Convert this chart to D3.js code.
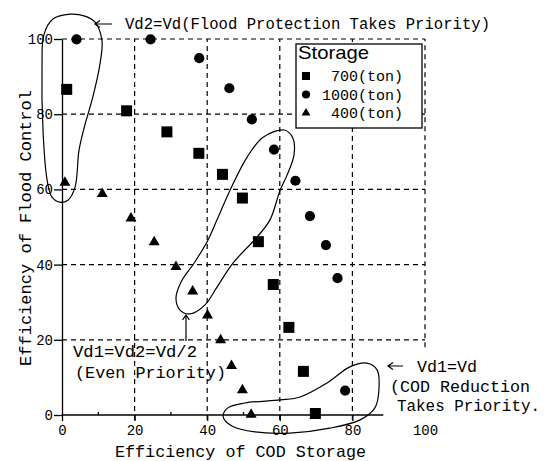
<!DOCTYPE html>
<html>
<head>
<meta charset="utf-8">
<script src="https://cdn.jsdelivr.net/npm/d3@7"></script>
<style>
  body { margin: 0; background: #fff; }
  svg { display: block; }
</style>
</head>
<body>
<svg id="chart" width="548" height="461"></svg>
<script>
// tick values on both axes
const xTicks = [0, 20, 40, 60, 80, 100]
const yTicks = [0, 20, 40, 60, 80, 100]
const xMinor = [10, 30, 50, 70]
const gridX = [20, 40, 60, 80, 100]
const gridY = [20, 40, 60, 80, 100]
const xAxisEnd = 88.5

// [efficiency of COD storage, efficiency of flood control]
const storage700 = [[1.3, 86.6], [17.8, 80.9], [28.9, 75.3], [37.7, 69.6], [44.2, 64.0], [49.7, 57.7],
  [54.1, 46.1], [58.2, 34.7], [62.5, 23.3], [66.5, 11.6], [69.8, 0.4]]
const storage1000 = [[4.0, 99.9], [24.4, 99.9], [37.8, 94.9], [46.1, 86.9], [52.3, 78.6], [58.4, 70.6],
  [64.3, 62.3], [68.3, 52.9], [72.7, 45.2], [75.9, 36.4], [78.0, 6.5]]
const storage400 = [[0.8, 61.8], [11.1, 58.8], [19.0, 52.3], [25.4, 46.0], [31.4, 39.4], [36.0, 32.9],
  [40.1, 26.5], [43.7, 19.9], [46.7, 13.1], [49.7, 6.6], [52.1, 0.1]]

const legendLabels = ['700(ton)', '1000(ton)', '400(ton)']

// hand drawn loops around the three priority cases (data units)
const loopFlood = [[2.2, 106.6], [6.3, 106.1], [9.1, 104.5], [11.0, 99.7], [10.5, 93.6], [8.5, 84.6],
  [6.3, 77.1], [4.7, 70.5], [3.6, 60.6], [1.7, 57.2], [-0.6, 56.6], [-2.8, 58.0], [-4.1, 62.5],
  [-5.2, 75.0], [-5.5, 92.6], [-5.0, 101.1], [-2.5, 105.3]]
const loopEven = [[61.2, 75.8], [63.6, 73.7], [63.9, 69.1], [62.0, 63.8], [60.1, 59.8], [57.3, 51.9],
  [53.7, 47.3], [47.1, 40.4], [42.7, 34.0], [39.4, 29.3], [35.3, 26.9], [32.5, 27.9], [31.4, 31.1],
  [32.8, 35.4], [36.6, 40.7], [40.2, 46.5], [42.7, 51.9], [46.3, 59.8], [51.0, 68.6], [55.4, 73.9]]
const loopCod = [[44.4, -0.5], [45.7, 1.9], [50.4, 3.2], [60.1, 4.0], [65.6, 4.8], [73.0, 8.5],
  [79.3, 12.8], [84.0, 13.8], [86.8, 12.0], [87.3, 6.6], [86.2, 1.9], [82.1, -1.3], [73.8, -3.5],
  [62.8, -4.8], [53.2, -4.5], [46.8, -2.9]]

const mono = '"Liberation Mono", "DejaVu Sans Mono", monospace'
const narrow = '"Liberation Sans Narrow", "Liberation Sans", Arial, sans-serif'

const svg = d3.select('#chart')
const x = d3.scaleLinear().domain([0, 100]).range([62, 425])
const y = d3.scaleLinear().domain([0, 100]).range([415, 39])

// dashed grid
const grid = svg.append('g')
  .attr('stroke', '#000')
  .attr('stroke-width', 1.2)
  .attr('stroke-dasharray', '5,4')
  .attr('fill', 'none')
grid.selectAll('.gv')
  .data(gridX)
  .join('line')
  .attr('class', 'gv')
  .attr('x1', d => x(d)).attr('x2', d => x(d))
  .attr('y1', d => d === 100 ? y(18) : y(0) + 5)
  .attr('y2', y(100))
grid.selectAll('.gh')
  .data(gridY)
  .join('line')
  .attr('class', 'gh')
  .attr('x1', x(0)).attr('x2', x(100))
  .attr('y1', d => y(d)).attr('y2', d => y(d))

// axes
const yAxis = svg.append('g')
  .attr('transform', `translate(${x(0)},0)`)
  .call(d3.axisLeft(y).tickValues(yTicks).tickSize(8).tickSizeOuter(0).tickPadding(1))
const xAxis = svg.append('g')
  .attr('transform', `translate(0,${y(0)})`)
  .call(d3.axisBottom(x).tickValues(xTicks).tickSize(6).tickSizeOuter(0).tickPadding(4))
xAxis.select('.domain').attr('d', `M${x(0)},0H${x(xAxisEnd)}`)
xAxis.selectAll('.tick').filter(d => d === 100).select('line').remove()
xAxis.selectAll('.minor')
  .data(xMinor)
  .join('line')
  .attr('class', 'minor')
  .attr('x1', d => x(d)).attr('x2', d => x(d))
  .attr('y1', 0).attr('y2', -3)
  .attr('stroke', '#000')

for (const ax of [xAxis, yAxis]) {
  ax.selectAll('path, line').attr('stroke', '#000').attr('stroke-width', 1.3)
  ax.selectAll('text')
    .attr('font-family', mono)
    .attr('font-size', 14)
    .attr('fill', '#000')
}

// axis titles
svg.append('text')
  .attr('x', 115).attr('y', 457)
  .attr('font-family', mono).attr('font-size', 17)
  .attr('textLength', 251).attr('lengthAdjust', 'spacingAndGlyphs')
  .text('Efficiency of COD Storage')
svg.append('text')
  .attr('transform', 'translate(31,366) rotate(-90)')
  .attr('font-family', mono).attr('font-size', 17)
  .attr('textLength', 276).attr('lengthAdjust', 'spacingAndGlyphs')
  .text('Efficiency of Flood Control')

// loops
const loopLine = d3.line()
  .x(d => x(d[0]))
  .y(d => y(d[1]))
  .curve(d3.curveCatmullRomClosed)
svg.append('g')
  .attr('fill', 'none')
  .attr('stroke', '#000')
  .attr('stroke-width', 1.2)
  .selectAll('path')
  .data([loopFlood, loopEven, loopCod])
  .join('path')
  .attr('d', loopLine)

// points
const series = [
  { data: storage700, symbol: d3.symbolSquare, size: 121, legendSize: 64 },
  { data: storage1000, symbol: d3.symbolCircle, size: 82, legendSize: 52 },
  { data: storage400, symbol: d3.symbolTriangle, size: 52, legendSize: 34 }
]
for (const s of series) {
  svg.append('g')
    .selectAll('path')
    .data(s.data)
    .join('path')
    .attr('transform', d => `translate(${x(d[0])},${y(d[1])})`)
    .attr('d', d3.symbol(s.symbol, s.size))
    .attr('fill', '#000')
}

// legend
const legend = svg.append('g').attr('transform', 'translate(296,44)')
legend.append('rect')
  .attr('width', 126).attr('height', 84)
  .attr('fill', '#fff')
  .attr('stroke', '#000')
  .attr('stroke-width', 1.3)
legend.append('text')
  .attr('x', 2).attr('y', 15)
  .attr('font-family', narrow).attr('font-size', 19)
  .attr('textLength', 71).attr('lengthAdjust', 'spacingAndGlyphs')
  .text('Storage')
const rows = legend.selectAll('.row')
  .data(series)
  .join('g')
  .attr('class', 'row')
  .attr('transform', (d, i) => `translate(0,${32 + i * 18.5})`)
rows.append('path')
  .attr('transform', 'translate(10,0)')
  .attr('d', d => d3.symbol(d.symbol, d.legendSize)())
  .attr('fill', '#000')
rows.append('text')
  .attr('x', 107).attr('y', 5)
  .attr('text-anchor', 'end')
  .attr('font-family', mono).attr('font-size', 15)
  .text((d, i) => legendLabels[i])

// annotations
const notes = svg.append('g').attr('font-family', mono).attr('font-size', 16).attr('fill', '#000')
notes.append('text').attr('x', 125).attr('y', 29)
  .attr('textLength', 365).attr('lengthAdjust', 'spacingAndGlyphs')
  .text('Vd2=Vd(Flood Protection Takes Priority)')
notes.append('text').attr('x', 73).attr('y', 357)
  .attr('font-size', 17)
  .attr('textLength', 124).attr('lengthAdjust', 'spacingAndGlyphs')
  .text('Vd1=Vd2=Vd/2')
notes.append('text').attr('x', 75).attr('y', 378)
  .attr('font-size', 17)
  .attr('textLength', 151).attr('lengthAdjust', 'spacingAndGlyphs')
  .text('(Even Priority)')
notes.append('text').attr('x', 417).attr('y', 372)
  .attr('font-size', 17)
  .attr('textLength', 60).attr('lengthAdjust', 'spacingAndGlyphs')
  .text('Vd1=Vd')
notes.append('text').attr('x', 390).attr('y', 392)
  .attr('font-size', 17)
  .attr('textLength', 140).attr('lengthAdjust', 'spacingAndGlyphs')
  .text('(COD Reduction')
notes.append('text').attr('x', 397).attr('y', 411)
  .attr('font-size', 16)
  .attr('textLength', 143).attr('lengthAdjust', 'spacingAndGlyphs')
  .text('Takes Priority.')

// arrows: [tail x, tail y, tip x, tip y]
const arrows = [[112, 24, 95, 24], [186, 341, 186, 315], [403, 366, 388, 366]]
svg.append('g')
  .attr('fill', 'none')
  .attr('stroke', '#000')
  .attr('stroke-width', 1.2)
  .selectAll('path')
  .data(arrows)
  .join('path')
  .attr('d', ([x0, y0, x1, y1]) => {
    const a = Math.atan2(y0 - y1, x0 - x1)
    const h = 6
    const p1 = [x1 + h * Math.cos(a + 0.6), y1 + h * Math.sin(a + 0.6)]
    const p2 = [x1 + h * Math.cos(a - 0.6), y1 + h * Math.sin(a - 0.6)]
    return `M${x0},${y0}L${x1},${y1}M${p1}L${x1},${y1}L${p2}`
  })
</script>
</body>
</html>
